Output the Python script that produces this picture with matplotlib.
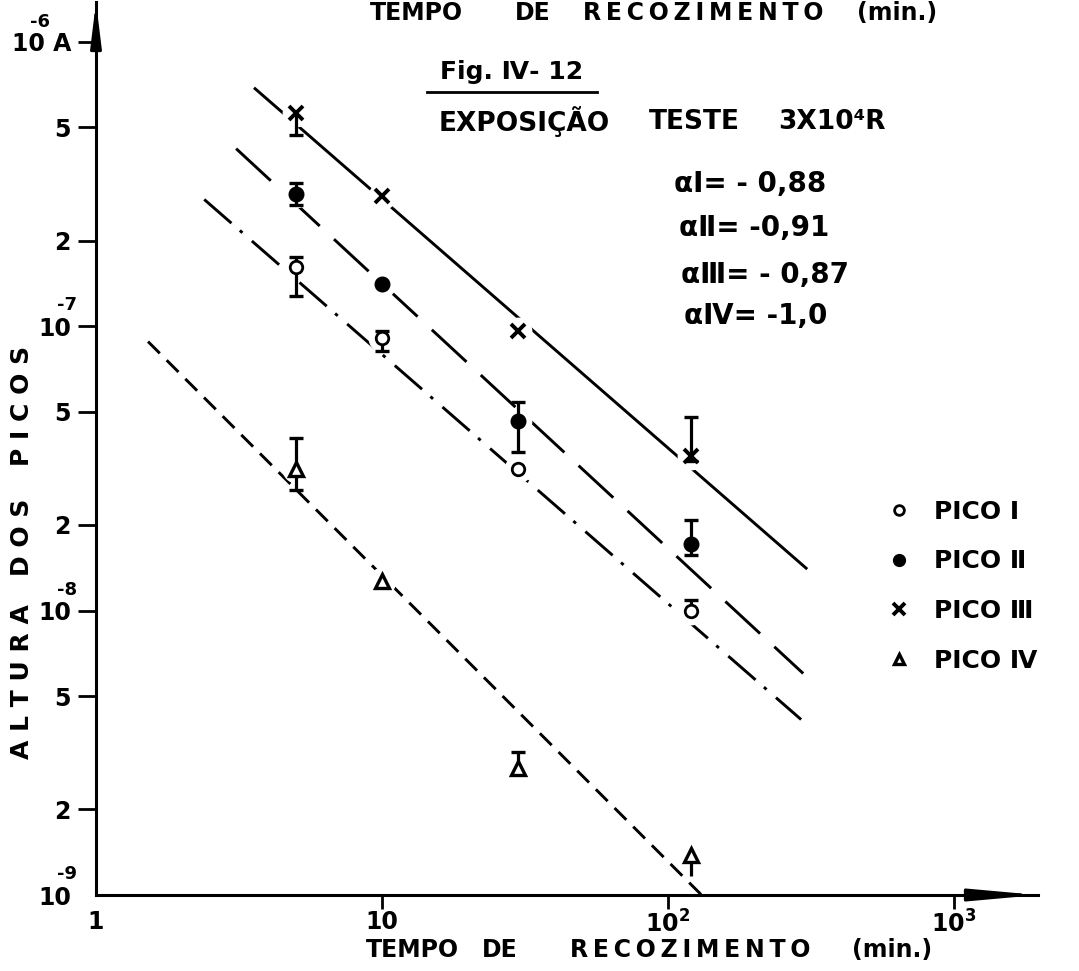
import matplotlib
matplotlib.use("Agg")
import numpy as np
import matplotlib.pyplot as plt
from matplotlib.lines import Line2D
from matplotlib.ticker import FixedLocator, NullLocator

# --------------------------------------------------------------------------- #
# Data (annealing time in min, peak height in A)
# --------------------------------------------------------------------------- #
TIMES = [5, 10, 30, 120]

PICO_I = [1.61e-7, 9.08e-8, 3.15e-8, 1.0e-8]
PICO_I_LO = [1.28e-7, 8.2e-8, 3.15e-8, 1.0e-8]
PICO_I_HI = [1.75e-7, 9.64e-8, 3.15e-8, 1.09e-8]

PICO_II = [2.92e-7, 1.41e-7, 4.66e-8, 1.72e-8]
PICO_II_LO = [2.67e-7, 1.41e-7, 3.62e-8, 1.57e-8]
PICO_II_HI = [3.19e-7, 1.41e-7, 5.43e-8, 2.09e-8]

PICO_III = [5.6e-7, 2.88e-7, 9.6e-8, 3.5e-8]
PICO_III_LO = [4.7e-7, 2.88e-7, 9.6e-8, 3.37e-8]
PICO_III_HI = [5.6e-7, 2.88e-7, 9.6e-8, 4.81e-8]

PICO_IV = [3.15e-8, 1.27e-8, 2.79e-9, 1.38e-9]
PICO_IV_LO = [2.66e-8, 1.27e-8, 2.79e-9, 1.17e-9]
PICO_IV_HI = [4.06e-8, 1.27e-8, 3.19e-9, 1.38e-9]
PICO_IV_LO_CAP = [True, True, True, False]

# fitted straight lines (end points on the log-log plot)
FIT_I_X, FIT_I_Y = [2.39, 292], [2.79e-7, 4.14e-9]
FIT_II_X, FIT_II_Y = [3.09, 297], [4.21e-7, 6.01e-9]
FIT_III_X, FIT_III_Y = [3.60, 304], [6.84e-7, 1.41e-8]
FIT_IV_X, FIT_IV_Y = [1.52, 131], [8.83e-8, 1.0e-9]

SLOPE_LABELS = ["αⅠ= - 0,88", "αⅡ= -0,91", "αⅢ= - 0,87", "αⅣ= -1,0"]
LEGEND_LABELS = ["PICO Ⅰ", "PICO Ⅱ", "PICO Ⅲ", "PICO Ⅳ"]

Y_TICKS = [1e-9, 2e-9, 5e-9, 1e-8, 2e-8, 5e-8, 1e-7, 2e-7, 5e-7, 1e-6]
Y_TICK_LABELS = ["10", "2", "5", "10", "2", "5", "10", "2", "5", "10 A"]
Y_DECADES = [1e-9, 1e-8, 1e-7, 1e-6]
Y_DECADE_EXP = ["-9", "-8", "-7", "-6"]
X_TICKS = [1, 10, 100, 1000]
X_TICK_LABELS = ["1", "10", r"$10^{2}$", r"$10^{3}$"]

# --------------------------------------------------------------------------- #
# Style
# --------------------------------------------------------------------------- #
plt.rcParams["font.family"] = ["DejaVu Sans"]
plt.rcParams["font.weight"] = "bold"
plt.rcParams["mathtext.fontset"] = "dejavusans"
plt.rcParams["mathtext.default"] = "bf"
plt.rcParams["lines.scale_dashes"] = False

W, H = 1079, 971
LW = 2.1
TS = "\u2009"   # thin space for the spread-out lettering


def fx(px):
    return px / W


def fy(py):
    return 1 - py / H


def spread(word):
    return TS.join(word)


fig = plt.figure(figsize=(W / 100, H / 100), dpi=100)
ax = fig.add_axes([fx(96), fy(895), (1038 - 96) / W, (895 - 2) / H])
ax.set_xscale("log")
ax.set_yscale("log")
ax.set_xlim(1, 10 ** ((1038 - 96) / 286))
ax.set_ylim(1e-9, 1.38e-6)

for s in ["top", "right"]:
    ax.spines[s].set_visible(False)
for s in ["left", "bottom"]:
    ax.spines[s].set_linewidth(2.2)

ax.xaxis.set_major_locator(FixedLocator(X_TICKS))
ax.xaxis.set_minor_locator(NullLocator())
ax.set_xticklabels(X_TICK_LABELS)
ax.yaxis.set_major_locator(FixedLocator(Y_TICKS))
ax.yaxis.set_minor_locator(NullLocator())
ax.set_yticklabels(Y_TICK_LABELS)
ax.tick_params(axis="y", direction="out", length=13, width=2, pad=5, labelsize=17)
ax.tick_params(axis="x", direction="out", length=10, width=2, pad=1, labelsize=17)
ax.xaxis.get_major_ticks()[0].tick1line.set_visible(False)
ax.yaxis.get_major_ticks()[0].tick1line.set_visible(False)

# decade exponents written above the "10", hand-lettering style
for val, exp in zip(Y_DECADES, Y_DECADE_EXP):
    dx, dy = (-40, 14) if exp == "-6" else (-21, 15)
    ax.annotate(exp, xy=(0, val), xycoords=("axes fraction", "data"),
                xytext=(dx, dy), textcoords="offset points",
                fontsize=13, fontweight="bold", ha="center", va="center",
                annotation_clip=False)

# arrow heads on the axes
ax.annotate("", xy=(0, 1.0), xytext=(0, 0.955), xycoords="axes fraction",
            arrowprops=dict(arrowstyle="-|>,head_length=1.3,head_width=0.16",
                            lw=2.2, color="black", mutation_scale=20,
                            shrinkA=0, shrinkB=0))
ax.annotate("", xy=(1.0, 0), xytext=(0.93, 0), xycoords="axes fraction",
            arrowprops=dict(arrowstyle="-|>,head_length=2.0,head_width=0.18",
                            lw=2.2, color="black", mutation_scale=20,
                            shrinkA=0, shrinkB=0))

# --------------------------------------------------------------------------- #
# Fit lines
# --------------------------------------------------------------------------- #
ax.plot(FIT_III_X, FIT_III_Y, color="black", lw=LW, ls="-", zorder=1)
ax.plot(FIT_II_X, FIT_II_Y, color="black", lw=LW, ls=(0, (34, 14)), zorder=1)
ax.plot(FIT_I_X, FIT_I_Y, color="black", lw=LW, ls=(0, (26, 8, 2.5, 9)), zorder=1)
ax.plot(FIT_IV_X, FIT_IV_Y, color="black", lw=LW, ls=(0, (12, 7)), zorder=1)

# --------------------------------------------------------------------------- #
# Points with error bars
# --------------------------------------------------------------------------- #
series = [
    (PICO_I, PICO_I_LO, PICO_I_HI, None,
     dict(marker="o", ms=9, mfc="white", mec="black", mew=2.0)),
    (PICO_II, PICO_II_LO, PICO_II_HI, None,
     dict(marker="o", ms=10.5, mfc="black", mec="black", mew=1)),
    (PICO_III, PICO_III_LO, PICO_III_HI, None,
     dict(marker="x", ms=9.5, mec="black", mew=2.8)),
    (PICO_IV, PICO_IV_LO, PICO_IV_HI, PICO_IV_LO_CAP,
     dict(marker="^", ms=10, mfc="white", mec="black", mew=2.4)),
]

for vals, lo, hi, locap, mk in series:
    # white halo so the lines stop short of the symbols
    ax.plot(TIMES, vals, ls="none", marker="o", ms=19, mfc="white",
            mec="white", zorder=2)
    for i, (t, v, l, h) in enumerate(zip(TIMES, vals, lo, hi)):
        if l < v:
            ax.vlines(t, l, v, color="black", lw=2.3, zorder=3)
            if locap is None or locap[i]:
                ax.plot(t, l, marker="_", ms=9.5, mew=2.4, color="black", zorder=3)
        if h > v:
            ax.vlines(t, v, h, color="black", lw=2.3, zorder=3)
            ax.plot(t, h, marker="_", ms=9.5, mew=2.4, color="black", zorder=3)
    ax.plot(TIMES, vals, ls="none", color="black", zorder=4, **mk)

# --------------------------------------------------------------------------- #
# Legend
# --------------------------------------------------------------------------- #
handles = [Line2D([], [], ls="none", color="black", **s[4]) for s in series]
handles[0].set_markersize(7)
handles[1].set_markersize(8.5)
handles[2].set_markersize(8)
handles[3].set_markersize(7.5)
ax.legend(handles, LEGEND_LABELS, loc="upper left",
          bbox_to_anchor=(fx(886), fy(500)), bbox_transform=fig.transFigure,
          frameon=False, fontsize=18, handlelength=1.0, handletextpad=0.9,
          labelspacing=1.02, borderpad=0, borderaxespad=0)

# --------------------------------------------------------------------------- #
# Texts
# --------------------------------------------------------------------------- #
title_kw = dict(fontsize=17, fontweight="bold", ha="center", va="center")
for word, cx in [("TEMPO", 416), ("DE", 533), (spread("RECOZIMENTO"), 703),
                 ("(min.)", 897)]:
    fig.text(fx(cx), fy(13), word, **title_kw)
for word, cx in [("TEMPO", 412), ("DE", 500), (spread("RECOZIMENTO"), 690),
                 ("(min.)", 892)]:
    fig.text(fx(cx), fy(950), word, **title_kw)

for word, cy in [("A L T U R A", 682), ("D O S", 537), ("P I C O S", 406)]:
    fig.text(fx(22), fy(cy), word, rotation=90, fontsize=18, fontweight="bold",
             ha="center", va="center")

fig.text(fx(512), fy(72), "Fig. Ⅳ- 12", fontsize=18, fontweight="bold",
         ha="center", va="center")
fig.add_artist(Line2D([fx(427), fx(597)], [fy(92), fy(92)], color="black",
                      lw=2, transform=fig.transFigure))
for word, cx in [("EXPOSIÇÃO", 524), ("TESTE", 694), ("3X10⁴R", 832)]:
    fig.text(fx(cx), fy(122), word, fontsize=19, fontweight="bold",
             ha="center", va="center")

for lab, lx, ly in zip(SLOPE_LABELS, [674, 679, 681, 684], [184, 228, 275, 316]):
    fig.text(fx(lx), fy(ly), lab, fontsize=20, fontweight="bold",
             ha="left", va="center")

fig.savefig("out.png", dpi=100)
